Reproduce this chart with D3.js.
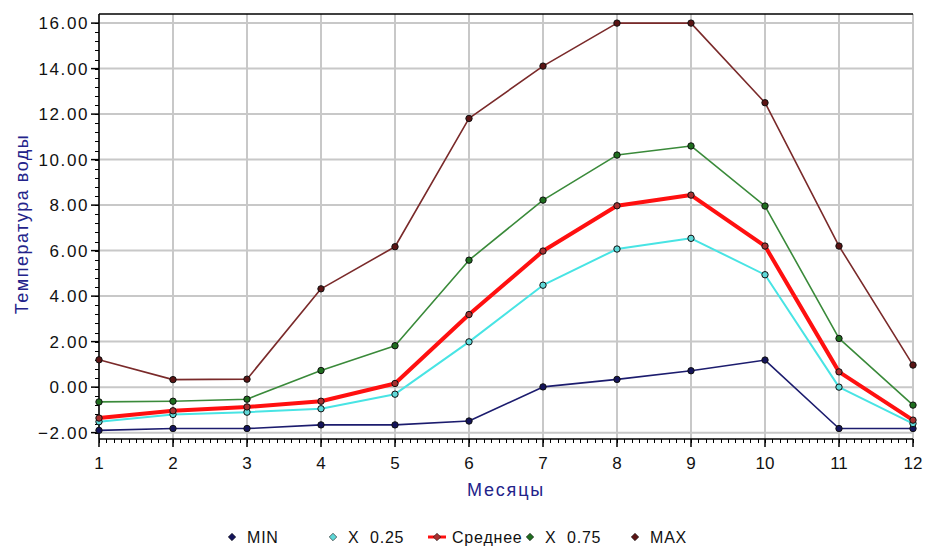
<!DOCTYPE html>
<html>
<head>
<meta charset="utf-8">
<script src="https://cdn.jsdelivr.net/npm/d3@7"></script>
<style>
  html, body { margin: 0; padding: 0; background: #fff; }
  svg text { font-family: "Liberation Sans", Arial, sans-serif; white-space: pre; }
</style>
</head>
<body>
<svg id="chart" width="925" height="546"></svg>
<script>
// Monthly water temperature statistics
const months = [1, 2, 3, 4, 5, 6, 7, 8, 9, 10, 11, 12];
const minVals  = [-1.9, -1.82, -1.82, -1.66, -1.66, -1.49, 0.01, 0.34, 0.72, 1.19, -1.82, -1.82];
const q25Vals  = [-1.52, -1.2, -1.1, -0.95, -0.31, 1.99, 4.48, 6.07, 6.54, 4.94, 0.0, -1.6];
const meanVals = [-1.36, -1.04, -0.87, -0.62, 0.16, 3.19, 5.98, 7.97, 8.44, 6.2, 0.67, -1.45];
const q75Vals  = [-0.65, -0.62, -0.53, 0.73, 1.82, 5.58, 8.22, 10.2, 10.6, 7.96, 2.14, -0.79];
const maxVals  = [1.2, 0.33, 0.35, 4.32, 6.17, 11.81, 14.11, 16.0, 16.0, 12.5, 6.2, 0.97];
const yTicks = [-2, 0, 2, 4, 6, 8, 10, 12, 14, 16];
const seriesNames = ["MIN", "X  0.25", "Среднее", "X  0.75", "MAX"];

const series = [
  { name: seriesNames[0], values: minVals,  color: "#1c1c6e", marker: "#14145a", width: 1.6 },
  { name: seriesNames[1], values: q25Vals,  color: "#48e4e4", marker: "#5fd8d8", width: 2 },
  { name: seriesNames[2], values: meanVals, color: "#ff1010", marker: "#a83030", width: 4 },
  { name: seriesNames[3], values: q75Vals,  color: "#3a8a3a", marker: "#1f6e1f", width: 1.6 },
  { name: seriesNames[4], values: maxVals,  color: "#7a2a2a", marker: "#5a1414", width: 1.6 }
];

const svg = d3.select("#chart");
const plotL = 99, plotR = 913, plotT = 14, plotB = 439;

const x = d3.scaleLinear().domain([1, 12]).range([plotL, plotR]);
const y = d3.scaleLinear().domain([-2.28, 16.4]).range([plotB, plotT]);

// grid
const grid = svg.append("g").attr("stroke", "#c8c8c8").attr("stroke-width", 2);
grid.selectAll("line.v").data(months).join("line")
  .attr("class", "v")
  .attr("x1", d => x(d)).attr("x2", d => x(d))
  .attr("y1", plotT).attr("y2", plotB);
grid.selectAll("line.h").data(yTicks).join("line")
  .attr("class", "h")
  .attr("x1", plotL).attr("x2", plotR)
  .attr("y1", d => y(d)).attr("y2", d => y(d));

// top frame line
svg.append("line").attr("x1", plotL).attr("x2", plotR)
  .attr("y1", plotT).attr("y2", plotT)
  .attr("stroke", "#000").attr("stroke-width", 1.5);

// y axis with minor ticks
const minorY = d3.range(-2, 16.01, 0.4);
const yAxis = svg.append("g").attr("transform", `translate(${plotL},0)`);
yAxis.append("line").attr("y1", plotT).attr("y2", plotB)
  .attr("stroke", "#000").attr("stroke-width", 1.5);
yAxis.selectAll("line.minor").data(minorY).join("line")
  .attr("class", "minor")
  .attr("x1", -4).attr("x2", 0)
  .attr("y1", d => Math.round(y(d)) + 0.5).attr("y2", d => Math.round(y(d)) + 0.5)
  .attr("stroke", "#000").attr("stroke-width", 1);
yAxis.selectAll("line.major").data(yTicks).join("line")
  .attr("class", "major")
  .attr("x1", -8).attr("x2", 0)
  .attr("y1", d => y(d)).attr("y2", d => y(d))
  .attr("stroke", "#000").attr("stroke-width", 1.5);
yAxis.selectAll("text").data(yTicks).join("text")
  .attr("x", -10).attr("y", d => y(d) + 6)
  .attr("text-anchor", "end")
  .attr("font-size", 17).attr("letter-spacing", 1.6)
  .attr("fill", "#111")
  .text(d3.format(".2f"));

// x axis with minor ticks
const minorX = d3.range(1, 12.001, 0.1);
const xAxis = svg.append("g").attr("transform", `translate(0,${plotB})`);
xAxis.append("line").attr("x1", plotL).attr("x2", plotR)
  .attr("stroke", "#000").attr("stroke-width", 1.5);
xAxis.selectAll("line.minor").data(minorX).join("line")
  .attr("class", "minor")
  .attr("x1", d => Math.round(x(d)) + 0.5).attr("x2", d => Math.round(x(d)) + 0.5)
  .attr("y1", 0).attr("y2", 4)
  .attr("stroke", "#000").attr("stroke-width", 1);
xAxis.selectAll("line.major").data(months).join("line")
  .attr("class", "major")
  .attr("x1", d => x(d)).attr("x2", d => x(d))
  .attr("y1", 0).attr("y2", 8)
  .attr("stroke", "#000").attr("stroke-width", 1.5);
xAxis.selectAll("text").data(months).join("text")
  .attr("x", d => x(d)).attr("y", 30)
  .attr("text-anchor", "middle")
  .attr("font-size", 17)
  .attr("fill", "#111")
  .text(d => d);

// axis titles
svg.append("text")
  .attr("x", 506).attr("y", 496)
  .attr("text-anchor", "middle")
  .attr("font-size", 18).attr("letter-spacing", 1.8)
  .attr("fill", "#23238a")
  .text("Месяцы");
svg.append("text")
  .attr("transform", "translate(28,224) rotate(-90)")
  .attr("text-anchor", "middle")
  .attr("font-size", 18).attr("letter-spacing", 1.5)
  .attr("fill", "#23238a")
  .text("Температура воды");

// lines and markers
const line = d3.line().x((d, i) => x(months[i])).y(d => y(d));
const plot = svg.append("g");
series.forEach(s => {
  plot.append("path")
    .attr("d", line(s.values))
    .attr("fill", "none")
    .attr("stroke", s.color)
    .attr("stroke-width", s.width)
    .attr("stroke-linejoin", "round");
});
series.forEach(s => {
  plot.selectAll(null).data(s.values).join("circle")
    .attr("cx", (d, i) => x(months[i]))
    .attr("cy", d => y(d))
    .attr("r", 3.2)
    .attr("fill", s.marker)
    .attr("stroke", "#111")
    .attr("stroke-width", 1);
});

// legend
const legendX = [232, 333, 437, 530, 635];
const legendY = 537;
const legend = svg.append("g");
series.forEach((s, i) => {
  const g = legend.append("g").attr("transform", `translate(${legendX[i]},${legendY})`);
  if (s.name === seriesNames[2]) {
    g.append("line").attr("x1", -9).attr("x2", 9)
      .attr("stroke", s.color).attr("stroke-width", 3);
  }
  g.append("path")
    .attr("d", d3.symbol(d3.symbolDiamond2, 36)())
    .attr("fill", s.marker)
    .attr("stroke", "#111").attr("stroke-width", 0.6);
  g.append("text")
    .attr("x", 15).attr("y", 6)
    .attr("font-size", 16).attr("letter-spacing", 0.8)
    .attr("fill", "#111")
    .text(s.name);
});
</script>
</body>
</html>
